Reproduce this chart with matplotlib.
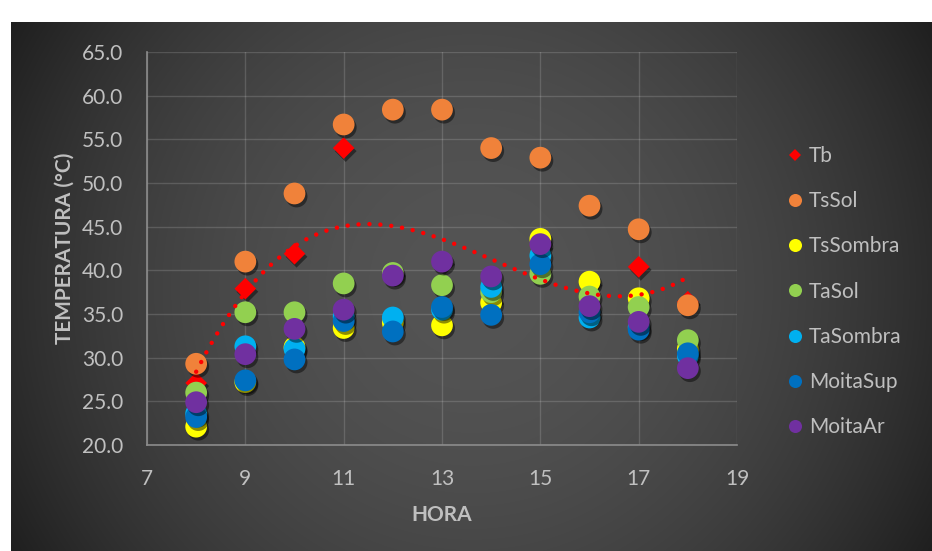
import numpy as np
import matplotlib
matplotlib.use("Agg")
import matplotlib.pyplot as plt
import matplotlib.patheffects as pe
from matplotlib.lines import Line2D

plt.rcParams['font.family'] = ['Lato', 'DejaVu Sans']

# ---- data -------------------------------------------------------------
hora = [8, 9, 10, 11, 12, 13, 14, 15, 16, 17, 18]

tb        = [27.1, 37.9, 41.9, 54.0, 39.7, 41.0, 36.5, 42.8, 38.6, 40.4, 36.4]
ts_sol    = [29.3, 41.0, 48.8, 56.7, 58.4, 58.4, 54.0, 52.9, 47.4, 44.7, 36.0]
ts_sombra = [22.1, 27.2, 31.2, 33.4, 34.0, 33.7, 36.3, 43.6, 38.7, 36.8, 31.0]
ta_sol    = [26.0, 35.2, 35.2, 38.5, 39.7, 38.3, 37.5, 39.6, 37.0, 35.8, 32.0]
ta_sombra = [23.6, 31.3, 31.0, 34.7, 34.6, 35.5, 38.1, 41.7, 34.6, 33.5, 30.2]
moita_sup = [23.2, 27.4, 29.8, 34.2, 33.0, 35.8, 34.9, 40.7, 35.2, 33.2, 30.5]
moita_ar  = [24.9, 30.4, 33.3, 35.5, 39.4, 41.0, 39.3, 43.0, 35.9, 34.1, 28.8]

series = [
    ("TsSol", ts_sol, "#F0823A"),
    ("TsSombra", ts_sombra, "#FFFF00"),
    ("TaSol", ta_sol, "#92D050"),
    ("TaSombra", ta_sombra, "#00B0F0"),
    ("MoitaSup", moita_sup, "#0070C0"),
    ("MoitaAr", moita_ar, "#7030A0"),
]

x_ticks = [7, 9, 11, 13, 15, 17, 19]
y_ticks = [20, 25, 30, 35, 40, 45, 50, 55, 60, 65]

W, H = 932, 551
fig = plt.figure(figsize=(W / 100, H / 100), dpi=100, facecolor="white")

# ---- dark radial-gradient panel --------------------------------------
px0, py0 = 11, 22          # panel top-left corner (pixels)
pw, ph = W - px0, H - py0
bg = fig.add_axes([px0 / W, 0, pw / W, ph / H], zorder=-5)
yy, xx = np.mgrid[0:ph, 0:pw]
r = np.hypot(xx - pw / 2, yy - ph / 2) / np.hypot(pw / 2, ph / 2)
lum = (84 - 53 * r ** 2) / 255.0
bg.imshow(np.dstack([lum, lum, lum]), aspect="auto", interpolation="bilinear")
bg.set_axis_off()

# ---- main axes --------------------------------------------------------
ax = fig.add_axes([147 / W, 106 / H, 590 / W, 393 / H])
ax.set_facecolor("none")

shadow = [pe.SimplePatchShadow(offset=(1.5, -2.2), shadow_rgbFace="black", alpha=0.45),
          pe.Normal()]

ax.scatter(hora, tb, s=122, marker="D", color="#FF0000", linewidths=0,
           zorder=3, path_effects=shadow)
for name, vals, col in series:
    ax.scatter(hora, vals, s=245, marker="o", color=col, linewidths=0,
               zorder=3, path_effects=shadow)

# cubic trend of Tb
coef = np.polyfit(hora, tb, 3)
xs = np.linspace(min(hora), max(hora), 400)
ax.plot(xs, np.polyval(coef, xs), color="#FF0000", lw=3.2,
        linestyle=(0, (0.01, 2.45)), dash_capstyle="round", zorder=5)

ax.set_xlim(7, 19)
ax.set_ylim(20, 65)
ax.set_xticks(x_ticks)
ax.set_yticks(y_ticks)
ax.set_yticklabels([f"{v:.1f}" for v in y_ticks])
ax.tick_params(axis="both", length=0, labelsize=15, colors="#C0C0C0")
ax.tick_params(axis="y", pad=17)
ax.tick_params(axis="x", pad=17)
ax.grid(True, color="#FFFFFF", alpha=0.15, lw=1.0)
ax.set_axisbelow(True)
for side in ("top", "right"):
    ax.spines[side].set_visible(False)
for side in ("left", "bottom"):
    ax.spines[side].set_color("#8C8C8C")
    ax.spines[side].set_linewidth(1.2)

ax.set_xlabel("HORA", fontsize=15, fontweight="bold", color="#BFBFBF", labelpad=12)
ax.set_ylabel("TEMPERATURA (°C)", fontsize=15, fontweight="bold", color="#BFBFBF",
              labelpad=5.5)

# ---- legend -----------------------------------------------------------
handles = [Line2D([], [], ls="none", marker="D", markersize=6.6, color="#FF0000",
                  markeredgewidth=0, label="Tb")]
for name, vals, col in series:
    handles.append(Line2D([], [], ls="none", marker="o", markersize=9.4, color=col,
                          markeredgewidth=0, label=name))
leg = fig.legend(handles=handles, loc="center left",
                 bbox_to_anchor=(789 / W, (H - 291.7) / H),
                 frameon=False, fontsize=15, labelcolor="#BFBFBF",
                 handlelength=0.6, handletextpad=0.35, labelspacing=1.21,
                 borderpad=0, borderaxespad=0)

fig.savefig("out.png", dpi=100, facecolor=fig.get_facecolor())
